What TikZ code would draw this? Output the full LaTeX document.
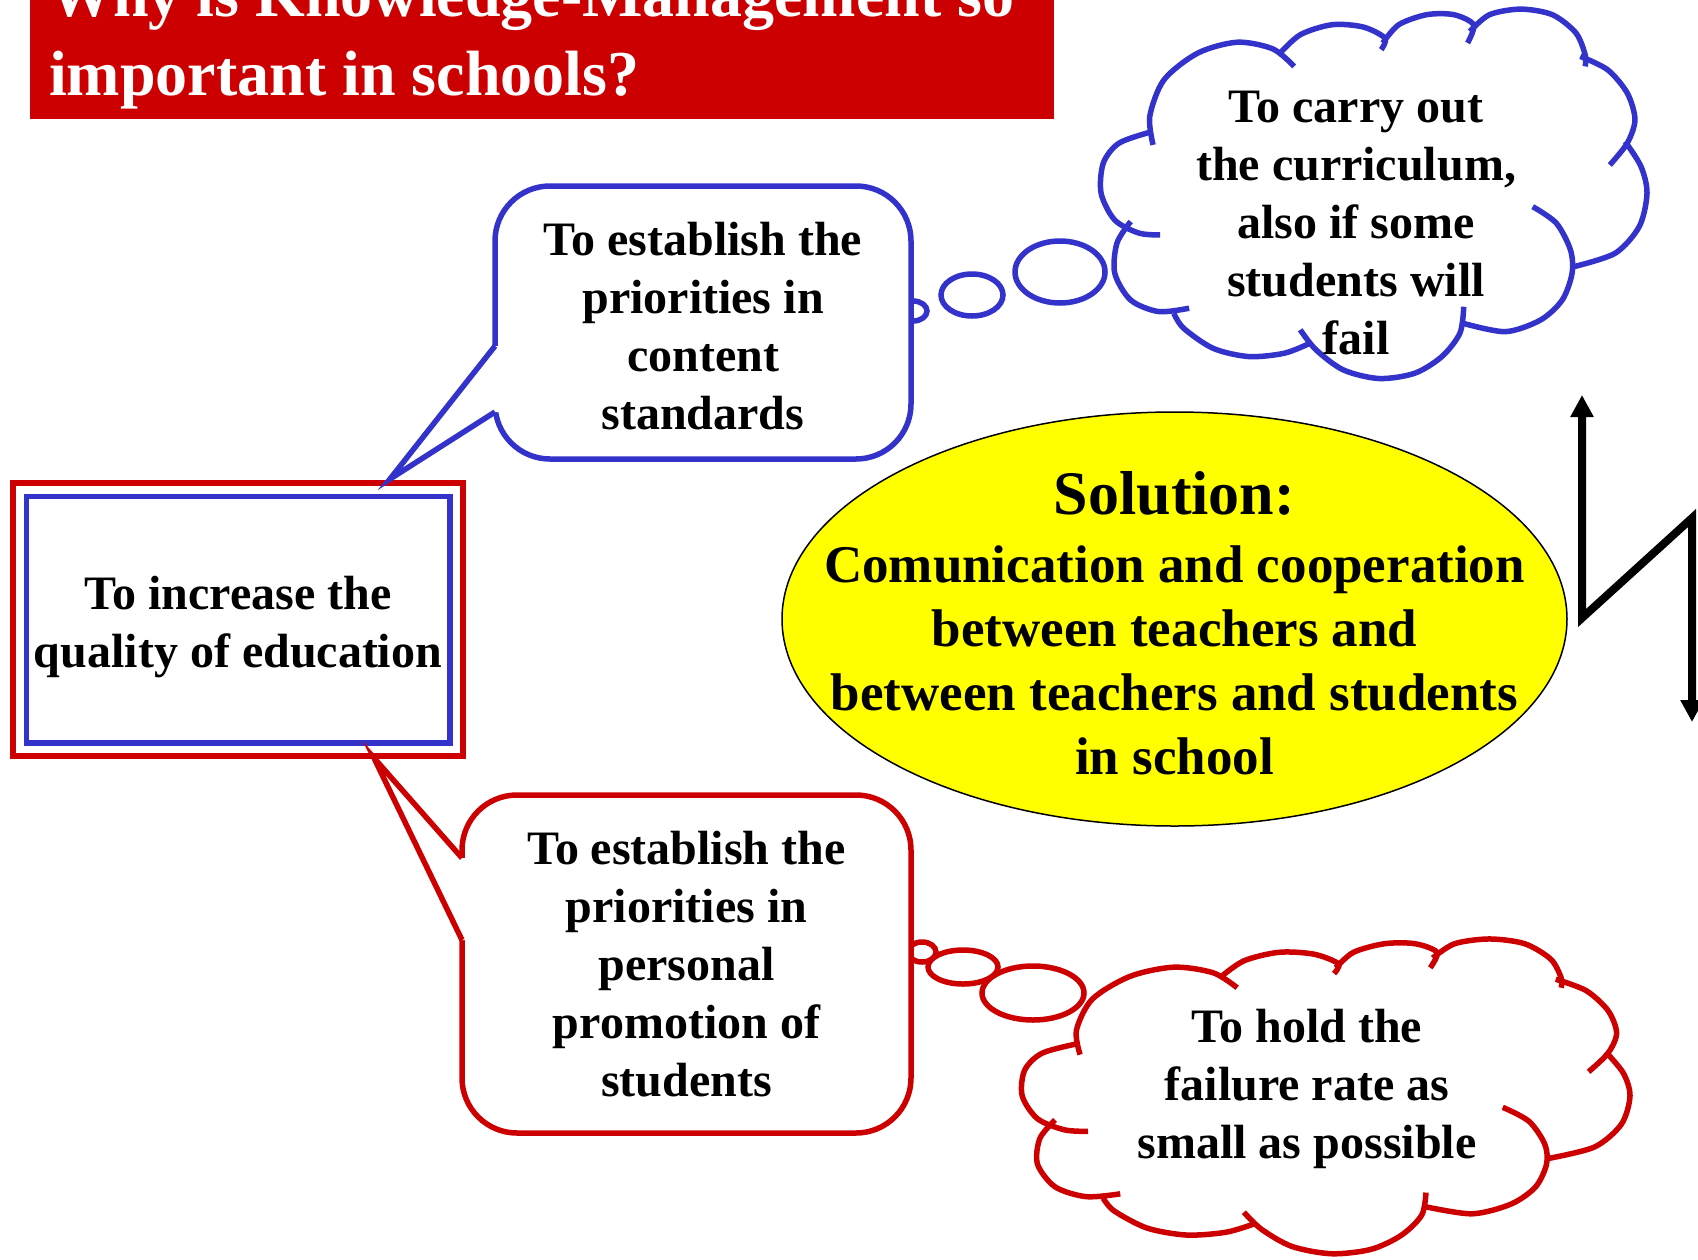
\documentclass[tikz,border=0pt]{standalone}
\usepackage{fontspec}
\setmainfont{Liberation Serif}
\usetikzlibrary{positioning,arrows.meta,calc,backgrounds,shapes.geometric}
\definecolor{kmBlue}{HTML}{3333CC}
\definecolor{kmRed}{HTML}{CC0000}
\definecolor{kmYellow}{HTML}{FFFF00}

% cloud outline in a unit box, y pointing down
\newcommand{\kmcloud}[1]{%
  \begin{scope}[#1]
    \draw plot[smooth] coordinates {(0.097,0.368) (0.091,0.291) (0.117,0.193) (0.179,0.121) (0.251,0.092) (0.316,0.110) (0.355,0.157)};
    \draw plot[smooth] coordinates {(0.326,0.126) (0.366,0.072) (0.424,0.045) (0.481,0.051) (0.521,0.081) (0.514,0.112)};
    \draw plot[smooth] coordinates {(0.517,0.094) (0.546,0.045) (0.597,0.018) (0.647,0.018) (0.683,0.045) (0.672,0.094)};
    \draw plot[smooth] coordinates {(0.676,0.063) (0.712,0.018) (0.769,0.003) (0.827,0.018) (0.870,0.067) (0.887,0.126) (0.887,0.157)};
    \draw plot[smooth] coordinates {(0.878,0.130) (0.928,0.166) (0.964,0.229) (0.978,0.300) (0.964,0.363) (0.932,0.422)};
    \draw plot[smooth] coordinates {(0.960,0.359) (0.989,0.426) (1.000,0.498) (0.986,0.587) (0.942,0.659) (0.867,0.695)};
    \draw plot[smooth] coordinates {(0.791,0.534) (0.834,0.578) (0.860,0.650) (0.863,0.713) (0.845,0.785) (0.805,0.839) (0.741,0.870) (0.665,0.848)};
    \draw plot[smooth] coordinates {(0.665,0.803) (0.658,0.874) (0.625,0.937) (0.575,0.982) (0.510,0.996) (0.445,0.973) (0.395,0.919) (0.366,0.865)};
    \draw plot[smooth] coordinates {(0.384,0.901) (0.337,0.928) (0.272,0.937) (0.207,0.915) (0.153,0.861) (0.135,0.821)};
    \draw plot[smooth] coordinates {(0.163,0.807) (0.107,0.816) (0.056,0.785) (0.027,0.713) (0.031,0.632) (0.056,0.574)};
    \draw plot[smooth] coordinates {(0.110,0.610) (0.071,0.605) (0.027,0.570) (0.002,0.498) (0.006,0.417) (0.035,0.363) (0.096,0.332)};
  \end{scope}}

\begin{document}
\begin{tikzpicture}[x=1pt,y=-1pt,font=\fontsize{48}{58}\selectfont\bfseries,
    callout/.style={draw,fill=white,line width=5.5pt,rounded corners=55pt,align=center,inner sep=0pt},
    goalbox/.style={draw=kmRed,line width=5.5pt,minimum width=450pt,minimum height=273pt},
    solution/.style={ellipse,draw=black,line width=1.5pt,fill=kmYellow,minimum width=785pt,minimum height=414pt,inner sep=-200pt,align=center,font=\fontsize{53}{64}\selectfont\bfseries},
    cloudtext/.style={align=center,inner sep=0pt},
    bubble/.style={line width=5.5pt,fill=white},
    tail/.style={line width=5.5pt,line join=miter},
    zigarrow/.style={line width=8pt,{Triangle[width=22pt,length=22pt]}-{Triangle[width=22pt,length=22pt]}}]
  \useasboundingbox (0,0) rectangle (1698,1259);

  % title
  \fill[kmRed] (30,-40) rectangle (1054,119);
  \node[anchor=base west,inner sep=0pt,align=left,text=white,font=\fontsize{64}{79}\selectfont\bfseries] (title) at (49,95) {Why is Knowledge-Management so\\important in schools?};

  % boxes
  \node[goalbox] (goal) at (238,619.5) {};
  \draw[kmBlue,line width=5.5pt] ($(goal.north west)+(16,16)$) rectangle ($(goal.south east)+(-16,-16)$);
  \node[cloudtext] (goaltext) at ($(goal)+(0,8)$) {To increase the\\quality of education};

  \node[callout,draw=kmBlue,minimum width=416pt,minimum height=273pt] (content) at (703,322.5) {\rule{0pt}{40pt}To establish the\\priorities in\\content\\standards};
  \node[callout,draw=kmRed,minimum width=449pt,minimum height=338pt] (promo) at (686.5,964) {To establish the\\priorities in\\personal\\promotion of\\students};

  \node[solution] (sol) at (1174.5,619) {{\fontsize{62}{64}\selectfont\rule{0pt}{51pt}Solution:}\\[4pt]Comunication and cooperation\\between teachers and\\between teachers and students\\in school};

  % callout tails
  \coordinate (contentTip) at (390,479);
  \coordinate (contentA) at (495,346);
  \coordinate (contentB) at (495,412);
  \fill[white] (contentTip) -- (contentA) -- ($(contentA)+(10,0)$) -- ($(contentB)+(10,0)$) -- (contentB) -- cycle;
  \draw[tail,kmBlue] (contentA) -- (contentTip) -- (contentB);

  \coordinate (promoTip) at (374,758);
  \coordinate (promoA) at (462,858);
  \coordinate (promoB) at (462,940);
  \fill[white] (promoTip) -- (promoA) -- ($(promoA)+(10,0)$) -- ($(promoB)+(10,0)$) -- (promoB) -- cycle;
  \draw[tail,kmRed] (promoA) -- (promoTip) -- (promoB);

  % thought bubbles
  \begin{scope}[on background layer]
    \draw[bubble,draw=kmBlue] (913,311) ellipse [x radius=14pt,y radius=10pt];
    \draw[bubble,draw=kmBlue] (972,295) ellipse [x radius=31pt,y radius=21pt];
    \draw[bubble,draw=kmBlue] (1060,272) ellipse [x radius=45pt,y radius=31pt];
    \draw[bubble,draw=kmRed] (922,952) ellipse [x radius=14pt,y radius=10pt];
    \draw[bubble,draw=kmRed] (963,967) ellipse [x radius=35pt,y radius=17pt];
    \draw[bubble,draw=kmRed] (1033,993) ellipse [x radius=51pt,y radius=27pt];
  \end{scope}

  % clouds
  \kmcloud{shift={(1100,8)},xscale=547,yscale=372,draw=kmBlue,line width=5.5pt}
  \node[cloudtext] (carry) at (1356,223) {To carry out\\the curriculum,\\also if some\\students will\\fail};
  \kmcloud{shift={(1021,938)},xscale=609,yscale=317,draw=kmRed,line width=5.5pt}
  \node[cloudtext] (hold) at (1307,1089) {To hold the\\failure rate as\\small as possible};

  % zigzag arrow
  \coordinate (zigTop) at (1582,395);
  \coordinate (zigLow) at (1582,618);
  \coordinate (zigHigh) at (1692,518);
  \coordinate (zigEnd) at (1692,722);
  \draw[zigarrow] (zigTop) -- (zigLow) -- (zigHigh) -- (zigEnd);
\end{tikzpicture}
\end{document}
